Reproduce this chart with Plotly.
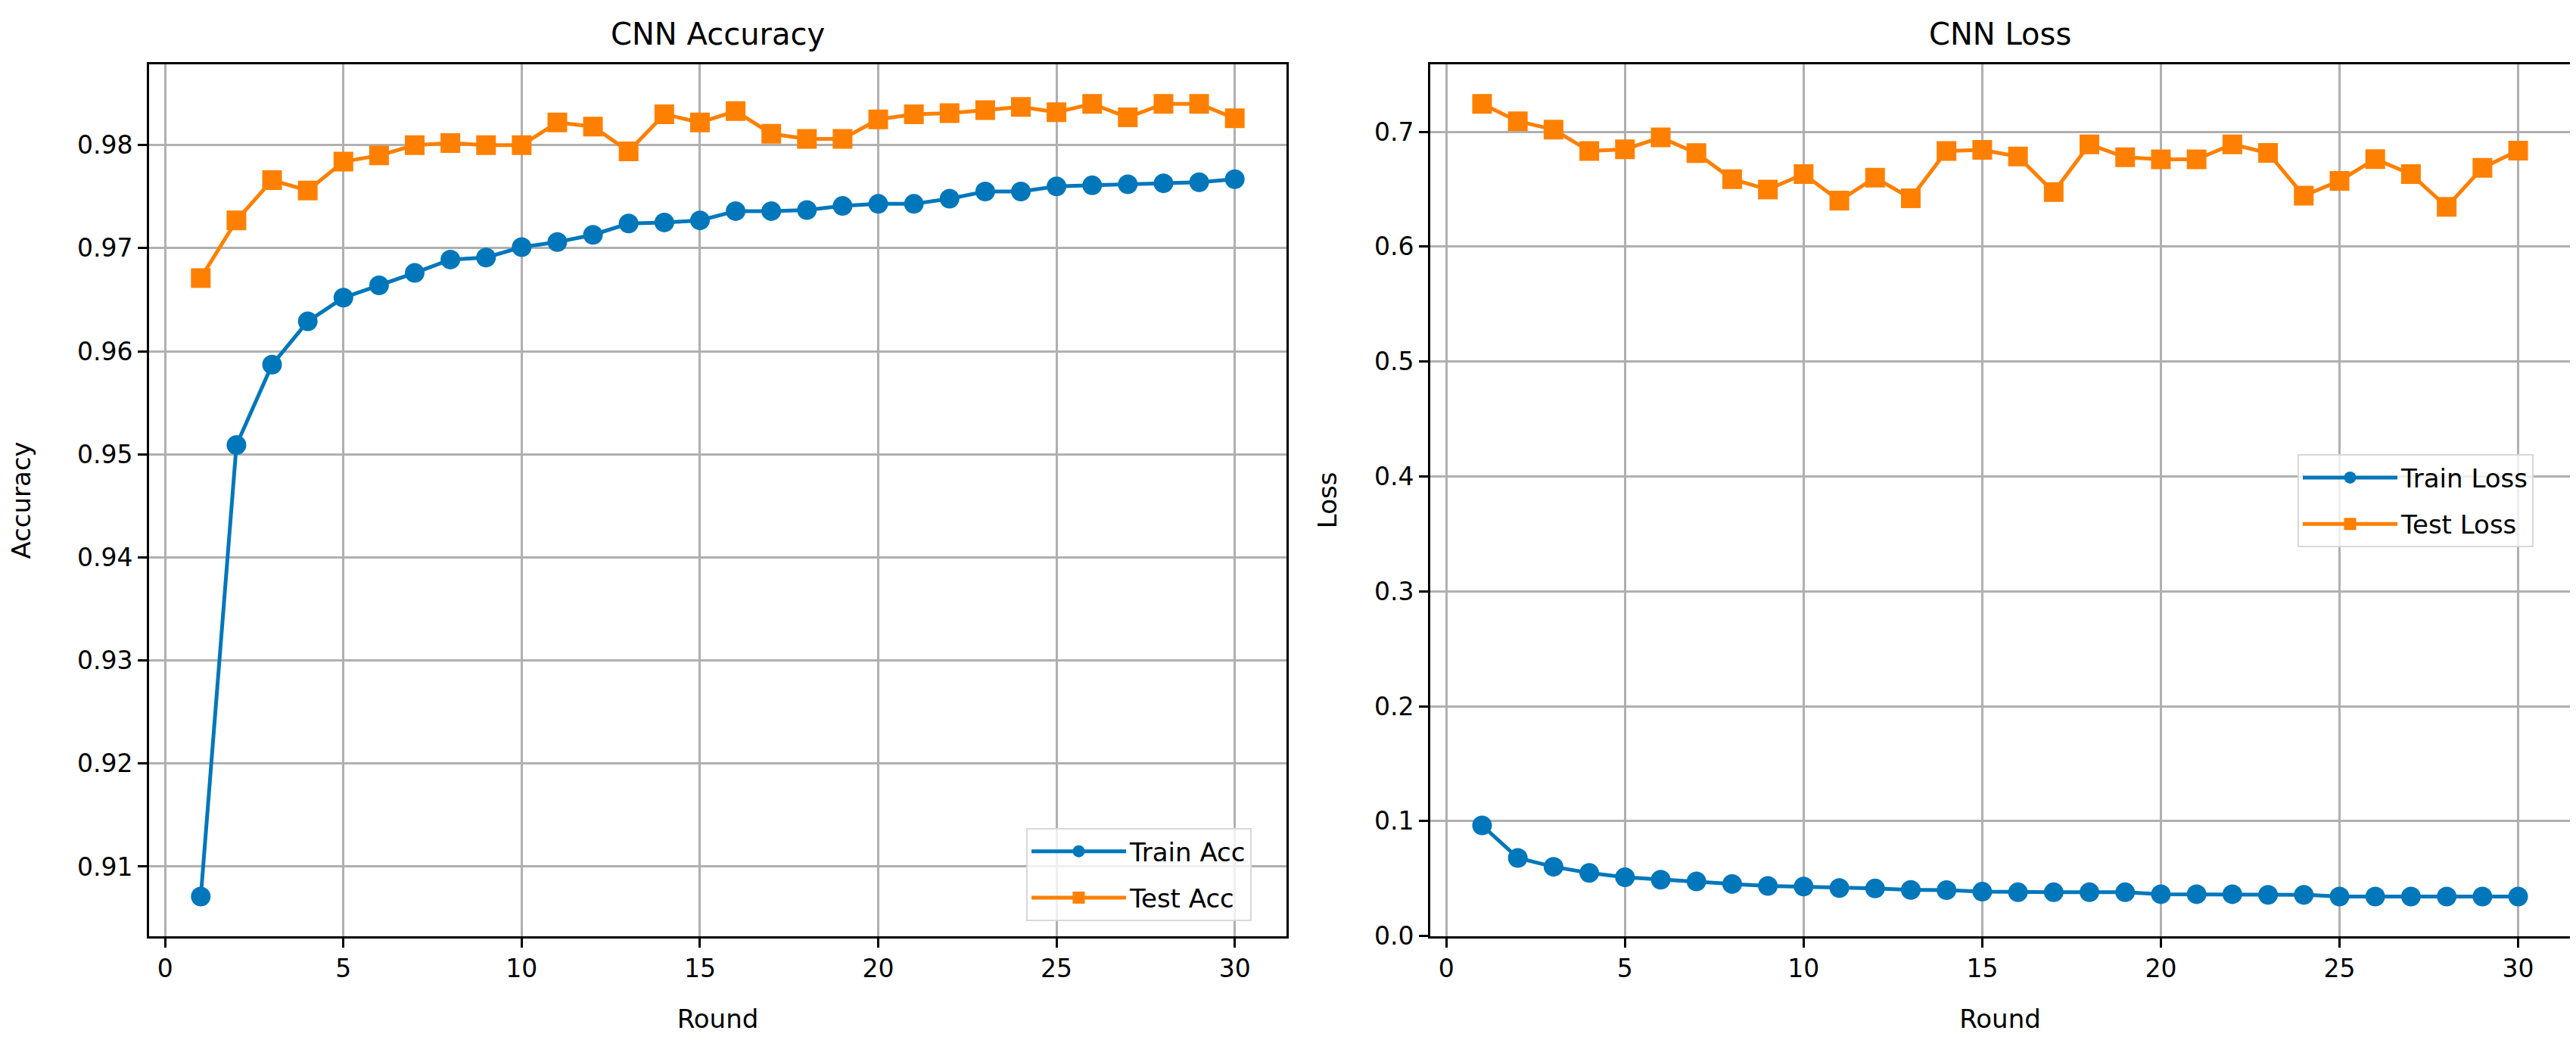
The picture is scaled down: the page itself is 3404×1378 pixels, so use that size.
import plotly.graph_objects as go
from plotly.subplots import make_subplots

rounds = list(range(1, 31))

train_acc = [0.9071, 0.9509, 0.9587, 0.9629, 0.9652, 0.9664, 0.9676, 0.9689, 0.9691, 0.9701,
             0.9706, 0.9713, 0.9724, 0.9725, 0.9727, 0.9736, 0.9736, 0.9737, 0.9741, 0.9743,
             0.9743, 0.9748, 0.9755, 0.9755, 0.9760, 0.9761, 0.9762, 0.9763, 0.9764, 0.9767]
test_acc = [0.9671, 0.9727, 0.9766, 0.9756, 0.9784, 0.9790, 0.9800, 0.9802, 0.9800, 0.9800,
            0.9822, 0.9818, 0.9794, 0.9830, 0.9822, 0.9833, 0.9811, 0.9806, 0.9806, 0.9825,
            0.9830, 0.9831, 0.9834, 0.9837, 0.9832, 0.9840, 0.9827, 0.9840, 0.9840, 0.9826]

train_loss = [0.0963, 0.0680, 0.0603, 0.0549, 0.0512, 0.0490, 0.0475, 0.0453, 0.0436, 0.0431,
              0.0418, 0.0414, 0.0401, 0.0400, 0.0386, 0.0381, 0.0381, 0.0381, 0.0381, 0.0364,
              0.0364, 0.0364, 0.0359, 0.0359, 0.0344, 0.0344, 0.0344, 0.0344, 0.0344, 0.0344]
test_loss = [0.7242, 0.7091, 0.7019, 0.6832, 0.6847, 0.6950, 0.6814, 0.6587, 0.6497, 0.6631,
             0.6400, 0.6600, 0.6421, 0.6832, 0.6842, 0.6784, 0.6475, 0.6890, 0.6778, 0.6760,
             0.6760, 0.6890, 0.6816, 0.6443, 0.6572, 0.6762, 0.6631, 0.6346, 0.6685, 0.6836]

BLUE = "#0077BB"
ORANGE = "#FF8000"
FONT = "DejaVu Sans"
W, H = 3404, 1378


def padded(vals, frac=0.05):
    lo, hi = min(vals), max(vals)
    p = (hi - lo) * frac
    return [lo - p, hi + p]


fig = make_subplots(rows=1, cols=2)

series = [
    (1, train_acc, "Train Acc", "circle", BLUE, "legend"),
    (1, test_acc, "Test Acc", "square", ORANGE, "legend"),
    (2, train_loss, "Train Loss", "circle", BLUE, "legend2"),
    (2, test_loss, "Test Loss", "square", ORANGE, "legend2"),
]
for col, vals, name, sym, color, leg in series:
    fig.add_trace(go.Scatter(
        x=rounds, y=vals, name=name, mode="lines+markers",
        line=dict(color=color, width=5),
        marker=dict(symbol=sym, size=26, color=color),
        legend=leg, legendgroup=name,
    ), row=1, col=col)

axis_common = dict(
    showline=True, linecolor="black", linewidth=3, mirror=True,
    showgrid=True, gridcolor="#b0b0b0", gridwidth=2.5,
    ticks="outside", ticklen=12, tickwidth=3, tickcolor="black",
    tickfont=dict(family=FONT, size=33, color="black"),
    zeroline=False,
)
title_font = dict(family=FONT, size=34, color="black")

fig.update_xaxes(axis_common, range=padded(rounds), dtick=5, tick0=0,
                 title=dict(text="Round", font=title_font, standoff=36))

fig.update_yaxes(axis_common, row=1, col=1, range=padded(train_acc + test_acc),
                 dtick=0.01, tick0=0, tickformat=".2f",
                 title=dict(text="Accuracy", font=title_font, standoff=52))
fig.update_yaxes(axis_common, row=1, col=2, range=padded(train_loss + test_loss),
                 dtick=0.1, tick0=0, tickformat=".1f",
                 title=dict(text="Loss", font=title_font, standoff=40))

legend_style = dict(bgcolor="rgba(255,255,255,0.8)", bordercolor="#d8d8d8", borderwidth=2,
                    font=dict(family=FONT, size=34, color="black"),
                    itemwidth=125, tracegroupgap=14)

fig.update_layout(
    xaxis=dict(domain=[189 / W, 1692 / W]),
    xaxis2=dict(domain=[1882 / W, 3388 / W]),
    yaxis=dict(domain=[1 - 1246 / H, 1 - 78 / H]),
    yaxis2=dict(domain=[1 - 1246 / H, 1 - 78 / H]),
    width=W, height=H,
    margin=dict(l=0, r=0, t=0, b=0),
    paper_bgcolor="white", plot_bgcolor="white",
    font=dict(family=FONT, size=34, color="black"),
    legend=dict(legend_style, x=1646 / W, y=1 - 1226 / H, xanchor="right", yanchor="bottom"),
    legend2=dict(legend_style, x=3340 / W, y=1 - 663 / H, xanchor="right", yanchor="middle"),
    annotations=[
        dict(text="CNN Accuracy", x=(189 + 1692) / 2 / W, y=1 - 38 / H, xref="paper", yref="paper",
             xanchor="center", yanchor="middle", showarrow=False,
             font=dict(family=FONT, size=40, color="black")),
        dict(text="CNN Loss", x=(1882 + 3388) / 2 / W, y=1 - 38 / H, xref="paper", yref="paper",
             xanchor="center", yanchor="middle", showarrow=False,
             font=dict(family=FONT, size=40, color="black")),
    ],
)

fig.write_html("out.html")
